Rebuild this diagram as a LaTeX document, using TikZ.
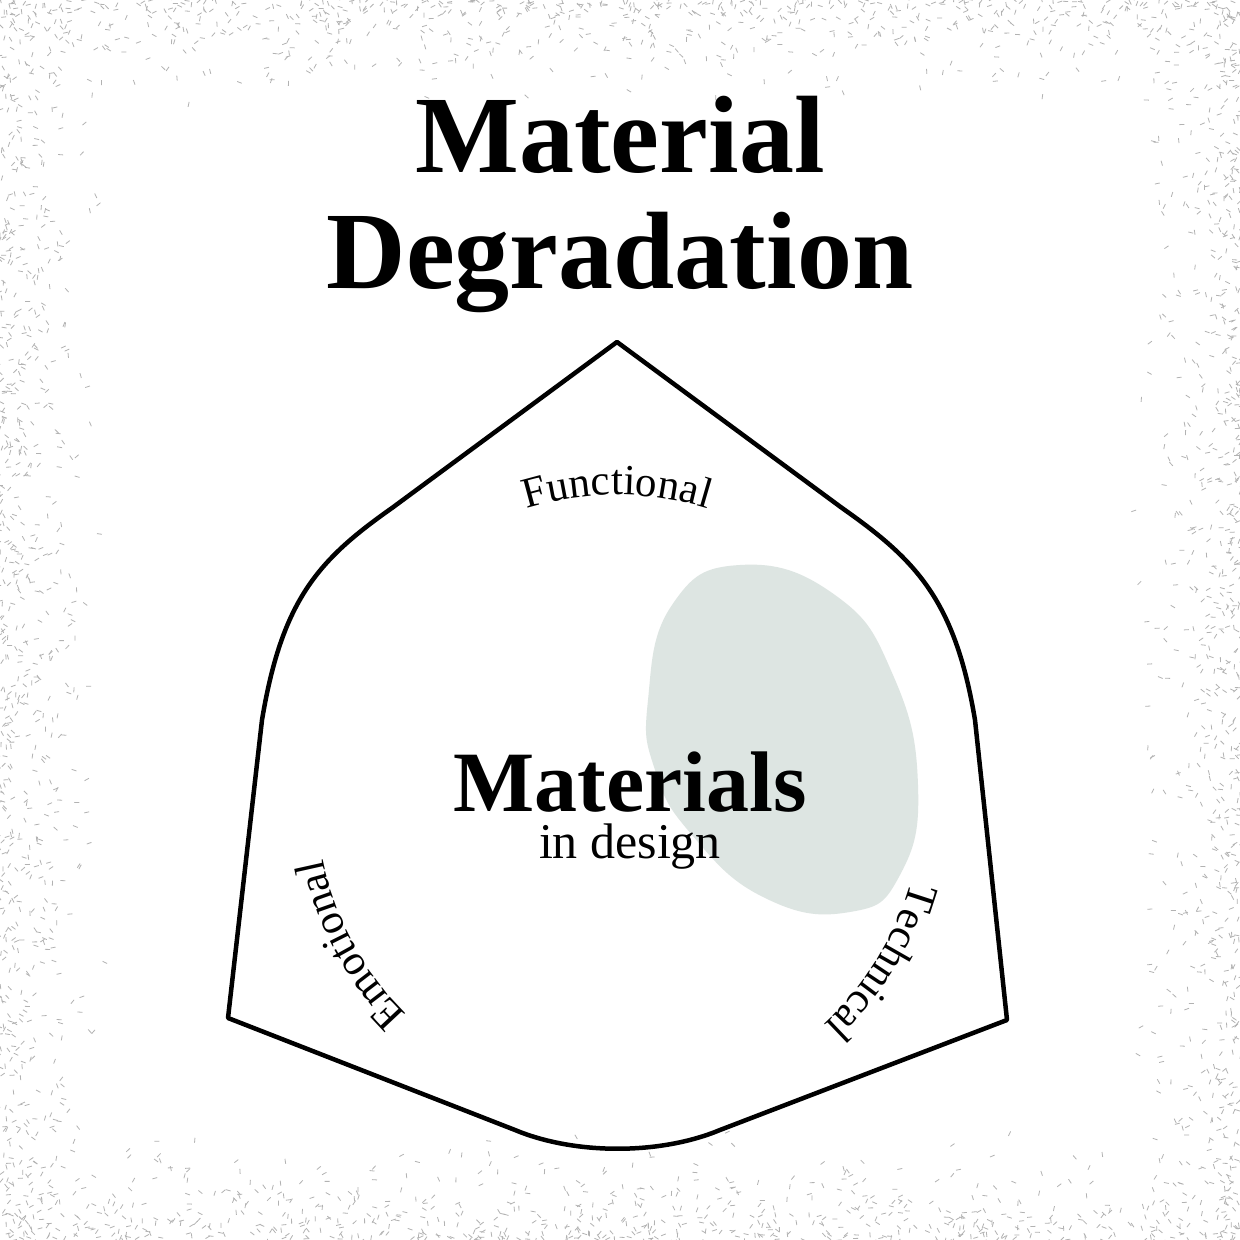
\documentclass[tikz,border=0pt]{standalone}
\usepackage{fontspec}
\setmainfont{Liberation Serif}
\usetikzlibrary{decorations.text,calc}
\definecolor{blob}{HTML}{DDE5E2}
\begin{document}
\begin{tikzpicture}[x=1pt,y=1pt,
  arctext/.style={decoration={text along path,text align=center,text={|\fontsize{43}{46}\selectfont|#1}},decorate}]
\useasboundingbox (0,0) rectangle (1240,1240);
\fill[white] (0,0) rectangle (1240,1240);
\pgfmathsetseed{7}
\foreach \i in {1,...,3000}{
  \pgfmathsetmacro\xx{rnd*1240}
  \pgfmathsetmacro\yy{rnd*rnd*110}
  \pgfmathsetmacro\aa{rnd*360}
  \pgfmathsetmacro\side{int(mod(\i,4))}
  \ifnum\side=0 \def\px{\xx}\def\py{\yy}\fi
  \ifnum\side=1 \def\px{\xx}\def\py{1240-\yy}\fi
  \ifnum\side=2 \def\px{\yy}\def\py{\xx}\fi
  \ifnum\side=3 \def\px{1240-\yy}\def\py{\xx}\fi
  \draw[gray!60,line width=0.8pt] ($(\px,\py)$) -- ++(\aa:5);
}
\fill[blob] plot[smooth cycle,tension=0.8] coordinates {(648,540) (672,635) (740,675) (835,645) (893,565) (918,455) (900,365) (850,328) (765,342) (692,405) (655,470)};
\draw[line width=4.5pt,line join=round] (228,222) -- (262,520) .. controls (282,640) and (318,680) .. (392,732) -- (617,898) -- (842,732) .. controls (916,680) and (955,640) .. (975,520) -- (1007,220) -- (720,110) .. controls (660,85) and (575,85) .. (515,110) -- cycle;
\node (t1) at (620,1105) {\fontsize{110}{112}\selectfont\bfseries Material};
\node (t2) at (620,978) {\fontsize{110}{112}\selectfont\bfseries Degradation};
\node (m) at (630,458) {\fontsize{86}{88}\selectfont\bfseries Materials};
\node (d) at (630,393) {\fontsize{50}{52}\selectfont in design};
\path[arctext=Functional] (617,440) ++(110:305) arc (110:70:305);
\path[arctext=Emotional] (617,440) ++(-133:300) arc (-133:-170:300);
\path[arctext=Technical] (617,440) ++(-13:305) arc (-13:-50:305);
\end{tikzpicture}
\end{document}
